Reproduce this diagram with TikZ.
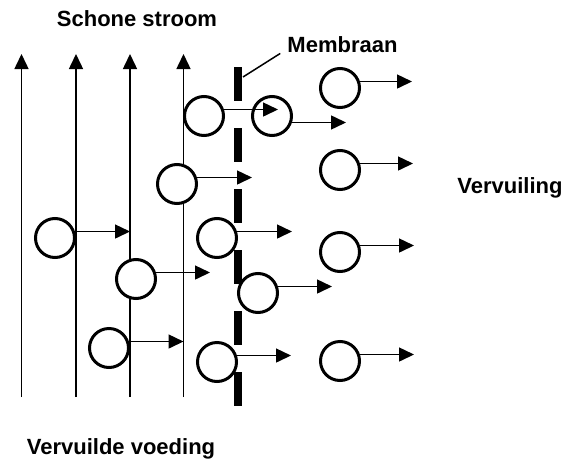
\documentclass[tikz,border=0pt]{standalone}
\usepackage{fontspec}
\setmainfont{Liberation Sans}
\usetikzlibrary{arrows.meta}
\begin{document}
\begin{tikzpicture}[x=1pt,y=-1pt,
  particle/.style={circle,draw,fill=white,line width=3pt,minimum size=39pt,inner sep=0pt},
  flow/.style={line width=1.5pt,-{Triangle[length=15pt,width=14pt]}},
  txt/.style={font=\fontsize{22}{26}\selectfont\bfseries,anchor=base,inner sep=0pt},
  membrane/.style={line width=8.5pt,dash pattern=on 34pt off 27pt},
  leader/.style={line width=1.5pt}]
\useasboundingbox (0,0) rectangle (573,461);

% feed channels flowing upward
\foreach \i/\x in {1/21.5,2/76,3/130,4/183.5}{
  \coordinate (v\i b) at (\x,397);
  \coordinate (v\i t) at (\x,54);
  \draw[flow] (v\i b) -- (v\i t);
}

% membrane
\coordinate (mtop) at (238,67);
\coordinate (mbot) at (238,406);
\draw[membrane] (mtop) -- (mbot);

% labels
\node[txt] (schoon) at (137,26.5) {Schone stroom};
\node[txt] (memlabel) at (342.5,52) {Membraan};
\node[txt] (vuil) at (510,193) {Vervuiling};
\node[txt] (voeding) at (121,454) {Vervuilde voeding};
\coordinate (mleader) at (243,77);
\draw[leader] (mleader) -- ([xshift=-7pt,yshift=-1pt]memlabel.south west);

% particles
\node[particle] (c1) at (204,116) {};
\node[particle] (c2) at (272,116) {};
\node[particle] (c3) at (340,88) {};
\node[particle] (c4) at (340,170) {};
\node[particle] (c5) at (177,184) {};
\node[particle] (c6) at (55,238) {};
\node[particle] (c7) at (136,279) {};
\node[particle] (c8) at (109,348) {};
\node[particle] (c9) at (217,238) {};
\node[particle] (c10) at (258,293) {};
\node[particle] (c11) at (217,362) {};
\node[particle] (c12) at (340,252) {};
\node[particle] (c13) at (340,361) {};

% arrow tips
\coordinate (t1) at (278,0);
\coordinate (t2) at (346,0);
\coordinate (t3) at (412,0);
\coordinate (t4) at (413,0);
\coordinate (t5) at (252,0);
\coordinate (t6) at (130,0);
\coordinate (t7) at (210,0);
\coordinate (t8) at (183.5,0);
\coordinate (t9) at (292,0);
\coordinate (t10) at (332,0);
\coordinate (t11) at (291,0);
\coordinate (t12) at (414,0);
\coordinate (t13) at (414,0);

% particle movement
\foreach \c in {1,3,4,5,6,7,8,9,10,11,12,13}{
  \draw[flow] (c\c.18) -- (t\c |- c\c.18);
}
\draw[flow] (c2.-18) -- (t2 |- c2.-18);
\end{tikzpicture}
\end{document}
